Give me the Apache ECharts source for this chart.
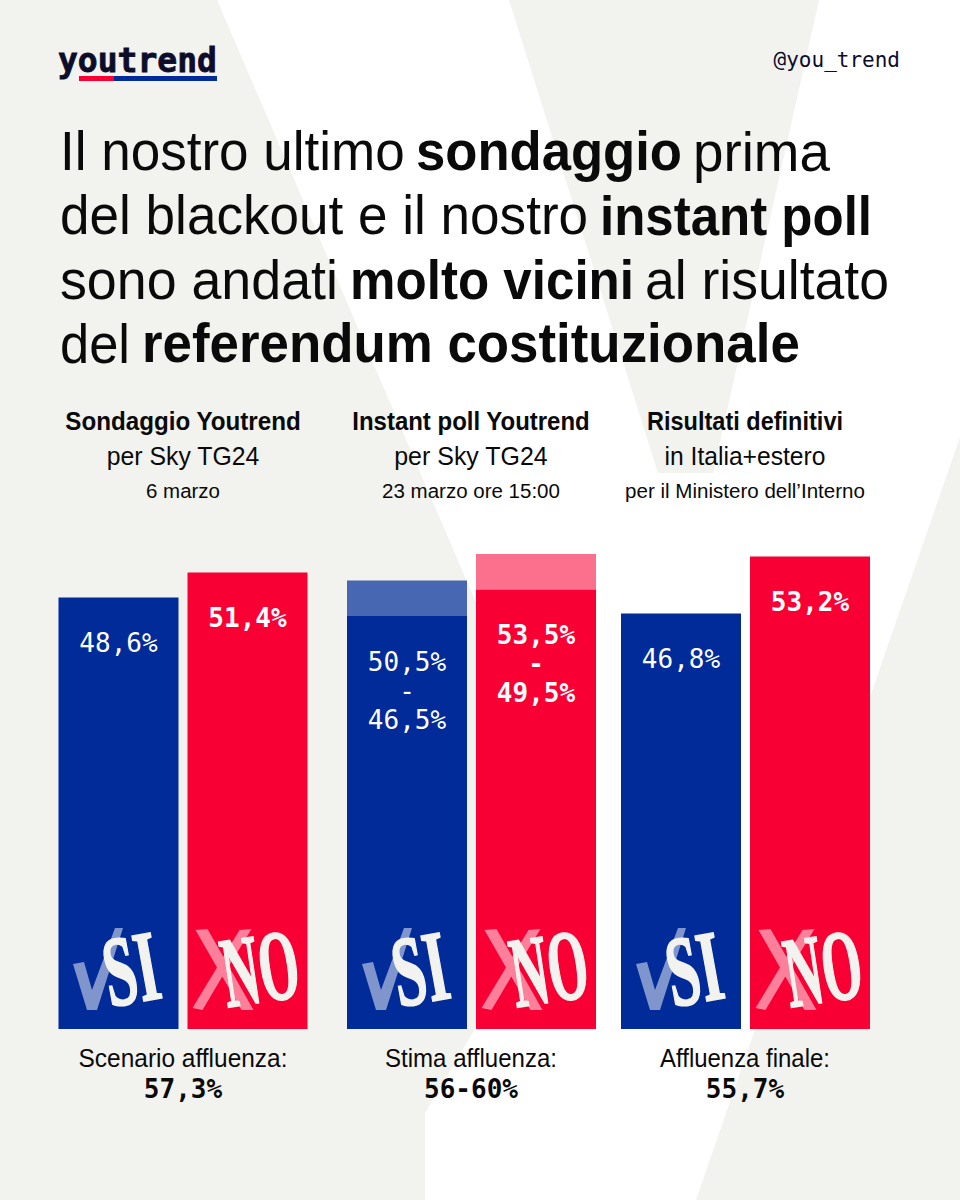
<!DOCTYPE html>
<html>
<head>
<meta charset="utf-8">
<style>
  html, body { margin: 0; padding: 0; background: #f2f3ef; }
  #chart { width: 960px; height: 1200px; }
</style>
<script src="https://cdn.jsdelivr.net/npm/echarts@6/dist/echarts.min.js"></script>
</head>
<body>
<div id="chart"></div>
<script>
(function() {
  var categories = ['SI', 'NO'];
  var siLow = [48.6, 46.5, 46.8];
  var siHigh = [48.6, 50.5, 46.8];
  var noLow = [51.4, 49.5, 53.2];
  var noHigh = [51.4, 53.5, 53.2];
  var siLabels = ['48,6%', '50,5%\n-\n46,5%', '46,8%'];
  var noLabels = ['51,4%', '53,5%\n-\n49,5%', '53,2%'];
  var headers = [
    ['Sondaggio Youtrend', 'per Sky TG24', '6 marzo'],
    ['Instant poll Youtrend', 'per Sky TG24', '23 marzo ore 15:00'],
    ['Risultati definitivi', 'in Italia+estero', 'per il Ministero dell’Interno']
  ];
  var turnoutNames = ['Scenario affluenza:', 'Stima affluenza:', 'Affluenza finale:'];
  var turnoutValues = ['57,3%', '56-60%', '55,7%'];

  var BLUE = '#002b99';
  var RED = '#f90035';
  var GREY = '#f2f3ef';
  var INK = '#0a0a0a';
  var NAVY = '#0c0c2b';
  var SANS = '"Liberation Sans", Arial, sans-serif';
  var MONO = '"DejaVu Sans Mono", monospace';

  // geometry of the three panels: grid left edge, and where the first bar starts
  var gridLeft = [54, 342.5, 616.5];
  var barLeft = [58, 347, 621];
  var panelCenter = [183, 471, 745];
  var headerWidths = [[236, 153, 74], [238, 154, 178], [196, 161, 240]];
  var turnoutWidths = [209, 172, 170];

  var measure = document.createElement('canvas').getContext('2d');
  var graphics = [];

  // text squeezed horizontally to a known width, since the original face is narrower
  function fitText(text, x, baseline, size, weight, width, align, color) {
    var font = weight + ' ' + size + 'px ' + SANS;
    measure.font = font;
    var k = width / measure.measureText(text).width;
    graphics.push({
      type: 'text',
      z: 10,
      x: x,
      y: baseline - size * 0.35,
      scaleX: k,
      style: { text: text, x: 0, y: 0, font: font, fill: color || INK, textAlign: align || 'left', textVerticalAlign: 'middle' }
    });
  }

  function poly(points, fill, z, opacity) {
    graphics.push({
      type: 'polygon',
      z: z,
      shape: { points: points },
      style: { fill: fill, opacity: opacity === undefined ? 1 : opacity }
    });
  }

  // --- Background: white Y on grey ---
  poly([[0, 0], [960, 0], [960, 1200], [0, 1200]], '#ffffff', 0);
  poly([[0, 0], [217, 0], [582, 849], [425, 1113], [425, 1200], [0, 1200]], GREY, 0);
  poly([[509, 0], [819, 0], [713, 473], [658, 473]], GREY, 0);
  poly([[960, 437], [960, 1200], [696, 1200]], GREY, 0);

  // --- Logo and handle ---
  graphics.push({
    type: 'text', z: 10, x: 58, y: 60,
    style: { text: 'youtrend', font: 'bold 33px ' + MONO, fill: NAVY, stroke: NAVY, lineWidth: 0.8, textVerticalAlign: 'middle' }
  });
  graphics.push({ type: 'rect', z: 10, shape: { x: 79, y: 76, width: 35, height: 5 }, style: { fill: RED } });
  graphics.push({ type: 'rect', z: 10, shape: { x: 114, y: 76, width: 103, height: 5 }, style: { fill: BLUE } });
  graphics.push({
    type: 'text', z: 10, x: 900, y: 60,
    style: { text: '@you_trend', font: '21px ' + MONO, fill: NAVY, textAlign: 'right', textVerticalAlign: 'middle' }
  });

  // --- Title ---
  fitText('Il nostro ultimo', 60, 171, 56, 'normal', 345);
  fitText('sondaggio', 416, 171, 56, 'bold', 266);
  fitText('prima', 693, 171, 56, 'normal', 137);
  fitText('del blackout e il nostro', 60, 235, 56, 'normal', 528);
  fitText('instant poll', 600, 235, 56, 'bold', 272);
  fitText('sono andati', 60, 299, 56, 'normal', 278);
  fitText('molto vicini', 350, 299, 56, 'bold', 284);
  fitText('al risultato', 645, 299, 56, 'normal', 244);
  fitText('del', 60, 363, 56, 'normal', 70);
  fitText('referendum costituzionale', 142, 363, 56, 'bold', 658);

  // --- Panels: headers, footers, SI / NO marks ---
  var checkMark = [[15, 964], [26, 962], [34, 990], [57, 928], [65, 928], [39, 1010], [29, 1010]];
  var crossMark = [
    [8, 930], [20, 929], [35.8, 956.8], [52, 930], [64, 929], [41.2, 966.3],
    [66, 1010], [54, 1010], [34.8, 976.6], [15, 1010], [5, 1008], [29.5, 967.4]
  ];

  function shift(points, dx) {
    return points.map(function(p) { return [p[0] + dx, p[1]]; });
  }

  barLeft.forEach(function(left, i) {
    var cx = panelCenter[i];
    fitText(headers[i][0], cx, 430, 25, 'bold', headerWidths[i][0], 'center');
    fitText(headers[i][1], cx, 465, 25, 'normal', headerWidths[i][1], 'center');
    fitText(headers[i][2], cx, 498, 20, 'normal', headerWidths[i][2], 'center');
    fitText(turnoutNames[i], cx, 1067, 25, 'normal', turnoutWidths[i], 'center');
    graphics.push({
      type: 'text', z: 10, x: cx, y: 1089,
      style: { text: turnoutValues[i], font: 'bold 26px ' + MONO, fill: INK, textAlign: 'center', textVerticalAlign: 'middle' }
    });

    poly(shift(checkMark, left), '#ffffff', 9, 0.5);
    poly(shift(crossMark, left + 129.5), '#ffffff', 9, 0.5);

    graphics.push({
      type: 'text', z: 10, x: left + 73, y: 969, rotation: 0.18, scaleX: 0.58,
      style: { text: categories[0], font: 'bold 100px "Liberation Serif", serif', fill: GREY, stroke: GREY, lineWidth: 2, textAlign: 'center', textVerticalAlign: 'middle' }
    });
    graphics.push({
      type: 'text', z: 10, x: left + 202, y: 968, rotation: 0.15, scaleX: 0.51,
      style: { text: categories[1], font: 'bold 100px "Liberation Serif", serif', fill: GREY, stroke: GREY, lineWidth: 2, textAlign: 'center', textVerticalAlign: 'middle' }
    });
  });

  // --- Bars: one grid per panel, same value scale ---
  var grids = [], xAxes = [], yAxes = [], series = [];

  function barLabel(text, bold) {
    return {
      show: true,
      position: 'insideTop',
      distance: 31,
      formatter: text,
      color: '#ffffff',
      fontFamily: MONO,
      fontSize: 26,
      lineHeight: 29,
      fontWeight: bold ? 'bold' : 'normal'
    };
  }

  gridLeft.forEach(function(left, i) {
    grids.push({ left: left, top: 141, width: 258, height: 888 });
    xAxes.push({ type: 'category', gridIndex: i, data: categories, show: false });
    yAxes.push({ type: 'value', gridIndex: i, min: 0, max: 100, show: false });
    series.push({
      type: 'bar',
      xAxisIndex: i,
      yAxisIndex: i,
      stack: 'poll' + i,
      barWidth: 120,
      data: [
        { value: siLow[i], itemStyle: { color: BLUE }, label: barLabel(siLabels[i], false) },
        { value: noLow[i], itemStyle: { color: RED }, label: barLabel(noLabels[i], true) }
      ]
    });
    series.push({
      type: 'bar',
      xAxisIndex: i,
      yAxisIndex: i,
      stack: 'poll' + i,
      barWidth: 120,
      data: [
        { value: siHigh[i] - siLow[i], itemStyle: { color: BLUE, opacity: 0.7 } },
        { value: noHigh[i] - noLow[i], itemStyle: { color: RED, opacity: 0.56 } }
      ]
    });
  });

  var chart = echarts.init(document.getElementById('chart'), null, { renderer: 'svg' });
  chart.setOption({
    animation: false,
    backgroundColor: GREY,
    graphic: { elements: graphics },
    grid: grids,
    xAxis: xAxes,
    yAxis: yAxes,
    series: series
  });
  window.addEventListener('resize', function() { chart.resize(); });
})();
</script>
</body>
</html>
